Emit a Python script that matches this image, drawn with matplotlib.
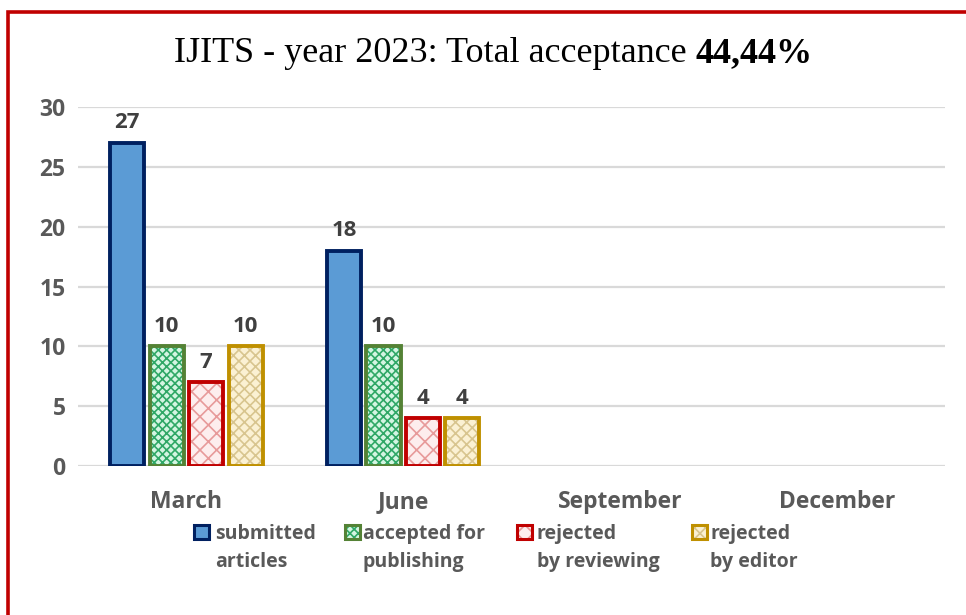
import matplotlib
matplotlib.use("Agg")
import matplotlib.pyplot as plt
from matplotlib.patches import Rectangle
import numpy as np

months = ["March", "June", "September", "December"]
series_names = ["submitted\narticles", "accepted for\npublishing", "rejected\nby reviewing", "rejected\nby editor"]
submitted = [27, 18, None, None]
accepted = [10, 10, None, None]
rej_review = [7, 4, None, None]
rej_editor = [10, 4, None, None]
yticks = [0, 5, 10, 15, 20, 25, 30]
title_main = "IJITS - year 2023: Total acceptance "
title_bold = "44,44%"

series = [submitted, accepted, rej_review, rej_editor]
face = ["#5B9BD5", "#D4F5E2", "#FDEDED", "#FBF1D3"]
hatchc = [None, "#2FA866", "#E79A9A", "#D8C58F"]
hatches = [None, "xxxx", "xx", "xxx"]
edges = ["#002060", "#548235", "#C00000", "#BF9000"]

FW, FH = 966, 615
plt.rcParams['hatch.linewidth'] = 1.2
fig = plt.figure(figsize=(FW / 100, FH / 100), dpi=100)
ax = fig.add_axes([0.0807, 0.242, 0.898, 0.584])

x = np.arange(len(months)) + 0.5
w = 0.157
step = 0.182
offs = [-1.5, -0.5, 0.5, 1.5]
for i, vals in enumerate(series):
    xs = [x[j] + offs[i] * step for j in range(len(vals)) if vals[j] is not None]
    hs = [v for v in vals if v is not None]
    ax.bar(xs, hs, w, color=face[i], linewidth=0, zorder=2)
    if hatches[i]:
        ax.bar(xs, hs, w, facecolor="none", edgecolor=hatchc[i], hatch=hatches[i], linewidth=0, zorder=3)
    ax.bar(xs, hs, w, fill=False, edgecolor=edges[i], linewidth=2.8, zorder=4)
    for xx, hh in zip(xs, hs):
        ax.annotate(str(hh), (xx, hh), xytext=(0, 7), textcoords="offset points",
                    ha="center", va="bottom", fontsize=16, fontweight="bold",
                    color="#404040", family="Open Sans")

ax.set_xlim(0, 4)
ax.set_ylim(0, 30)
ax.set_yticks(yticks)
ax.set_xticks(x)
ax.set_xticklabels(months)
ax.yaxis.grid(True, color="#D9D9D9", linewidth=1.6, zorder=0)
ax.set_axisbelow(True)
for s in ax.spines.values():
    s.set_visible(False)
ax.tick_params(axis="both", length=0, labelcolor="#595959")
ax.tick_params(axis="y", pad=9, labelsize=16.5)
ax.tick_params(axis="x", pad=17, labelsize=16.5)
for lab in ax.get_xticklabels() + ax.get_yticklabels():
    lab.set_fontweight("bold")
    lab.set_family("Open Sans")

# legend drawn by hand (pixel positions)
mk_left = [194, 345, 517, 692]
tx_left = [215, 363, 537, 710]
def fx(px):
    return px / FW
def fy(py):
    return 1 - py / FH
for i, name in enumerate(series_names):
    rx, ry, rw, rh = fx(mk_left[i]), fy(539), 15 / FW, 14 / FH
    fig.patches.append(Rectangle((rx, ry), rw, rh, transform=fig.transFigure, facecolor=face[i],
                                 linewidth=0, figure=fig))
    if hatches[i]:
        fig.patches.append(Rectangle((rx, ry), rw, rh, transform=fig.transFigure, facecolor="none",
                                     edgecolor=hatchc[i], hatch=hatches[i], linewidth=0, figure=fig))
    fig.patches.append(Rectangle((rx, ry), rw, rh, transform=fig.transFigure, fill=False,
                                 edgecolor=edges[i], linewidth=2.2, figure=fig))
    for k, line in enumerate(name.split("\n")):
        fig.text(fx(tx_left[i]), fy(539 + 28 * k), line, fontsize=14, fontweight="bold",
                 family="Open Sans", color="#595959", ha="left", va="baseline")

# title with bold tail
fig.canvas.draw()
r = fig.canvas.get_renderer()
t1 = fig.text(0, 0.913, title_main, fontsize=26, family="Liberation Serif", va="center", ha="left")
t2 = fig.text(0, 0.913, title_bold, fontsize=26, family="Liberation Serif", fontweight="bold", va="center", ha="left")
w1 = t1.get_window_extent(r).width
w2 = t2.get_window_extent(r).width
W = fig.bbox.width
cx = 493
start = cx - (w1 + w2) / 2
t1.set_x(start / W)
t2.set_x((start + w1) / W)

fig.patches.append(Rectangle((8 / FW, -0.1), 1.2, (FH - 11.5) / FH + 0.1, transform=fig.transFigure,
                             fill=False, edgecolor="#C00000", linewidth=2.6, figure=fig))

fig.savefig("out.png", dpi=100)
